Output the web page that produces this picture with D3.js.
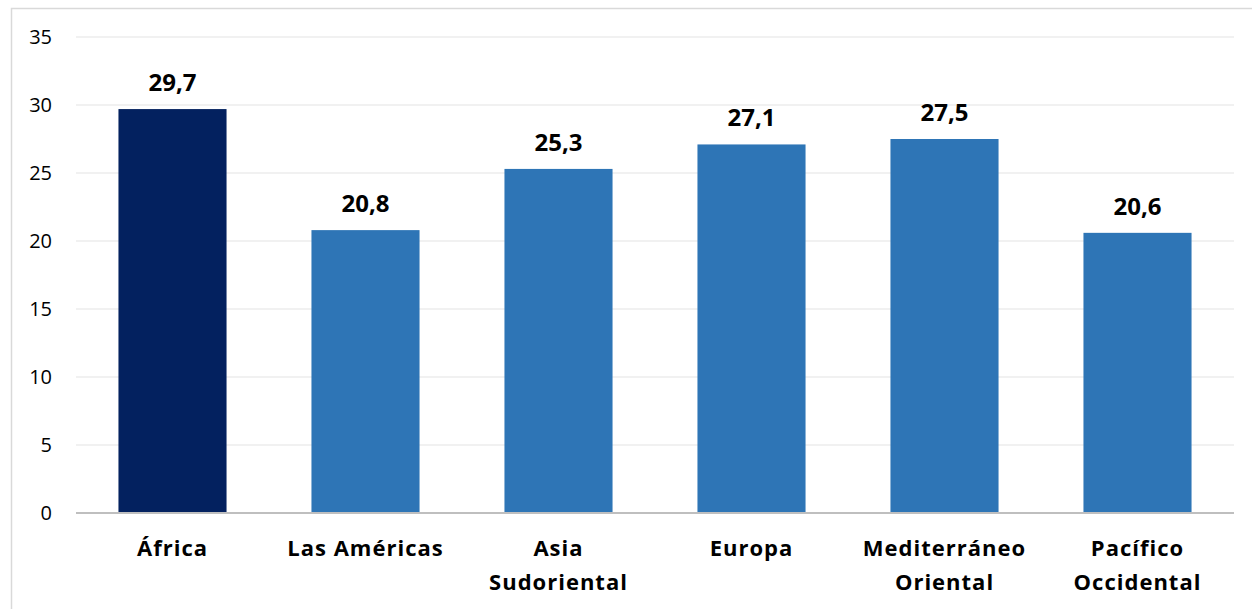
<!DOCTYPE html>
<html>
<head>
<meta charset="utf-8">
<script src="https://cdnjs.cloudflare.com/ajax/libs/d3/7.8.5/d3.min.js"></script>
<style>
  body { margin: 0; background: #fff; }
  svg { display: block; font-family: "Open Sans", sans-serif; }
</style>
</head>
<body>
<svg id="chart"></svg>
<script>
// regions and values (%)
var regions = ["África", "Las Américas", "Asia Sudoriental", "Europa", "Mediterráneo Oriental", "Pacífico Occidental"];
var regionLines = [["África"], ["Las Américas"], ["Asia", "Sudoriental"], ["Europa"], ["Mediterráneo", "Oriental"], ["Pacífico", "Occidental"]];
var values = [29.7, 20.8, 25.3, 27.1, 27.5, 20.6];
var yTicks = [0, 5, 10, 15, 20, 25, 30, 35];

var width = 1252, height = 609;
var margin = {top: 37, right: 18, bottom: 96, left: 76};

var svg = d3.select("#chart")
    .attr("width", width)
    .attr("height", height);

// outer frame
svg.append("rect")
    .attr("x", 11.5).attr("y", 8.5)
    .attr("width", width + 10).attr("height", height + 10)
    .attr("fill", "none")
    .attr("stroke", "#d9d9d9")
    .attr("stroke-width", 1.5);

var x = d3.scaleBand()
    .domain(regions)
    .range([margin.left, width - margin.right])
    .paddingInner(0.44)
    .paddingOuter(0.22);

var y = d3.scaleLinear()
    .domain([0, 35])
    .range([height - margin.bottom, margin.top]);

// gridlines
svg.append("g")
    .selectAll("line")
    .data(yTicks.filter(function (d) { return d > 0; }))
    .join("line")
    .attr("x1", margin.left).attr("x2", width - margin.right)
    .attr("y1", function (d) { return y(d); })
    .attr("y2", function (d) { return y(d); })
    .attr("stroke", "#ececec")
    .attr("stroke-width", 1.5);

// y axis labels
var yAxis = d3.axisLeft(y)
    .tickValues(yTicks)
    .tickSize(0)
    .tickPadding(0)
    .tickFormat(d3.format("d"));

svg.append("g")
    .attr("transform", "translate(52,0)")
    .call(yAxis)
    .call(function (g) { g.select(".domain").remove(); })
    .selectAll("text")
    .attr("font-size", 20)
    .attr("font-family", "'Open Sans', sans-serif")
    .attr("fill", "#000");

// bars
svg.append("g")
    .selectAll("rect")
    .data(values)
    .join("rect")
    .attr("x", function (d, i) { return x(regions[i]); })
    .attr("y", function (d) { return y(d); })
    .attr("width", x.bandwidth())
    .attr("height", function (d) { return y(0) - y(d); })
    .attr("fill", function (d, i) { return i === 0 ? "#03215f" : "#2e75b6"; });

// baseline
svg.append("line")
    .attr("x1", margin.left).attr("x2", width - margin.right)
    .attr("y1", y(0)).attr("y2", y(0))
    .attr("stroke", "#bfbfbf")
    .attr("stroke-width", 2);

// value labels
svg.append("g")
    .selectAll("text")
    .data(values)
    .join("text")
    .attr("x", function (d, i) { return x(regions[i]) + x.bandwidth() / 2; })
    .attr("y", function (d) { return y(d) - 18; })
    .attr("text-anchor", "middle")
    .attr("font-size", 24)
    .attr("font-weight", "bold")
    .attr("fill", "#000")
    .text(function (d) { return d3.format(".1f")(d).replace(".", ","); });

// category labels
var cat = svg.append("g")
    .selectAll("text")
    .data(regions)
    .join("text")
    .attr("x", function (d) { return x(d) + x.bandwidth() / 2; })
    .attr("y", y(0) + 43)
    .attr("text-anchor", "middle")
    .attr("font-size", 22)
    .attr("font-weight", "bold")
    .attr("letter-spacing", "1px")
    .attr("fill", "#000");

cat.selectAll("tspan")
    .data(function (d, i) { return regionLines[i]; })
    .join("tspan")
    .attr("x", function () { return d3.select(this.parentNode).attr("x"); })
    .attr("dy", function (d, i) { return i === 0 ? 0 : 34; })
    .text(function (d) { return d; });
</script>
</body>
</html>
